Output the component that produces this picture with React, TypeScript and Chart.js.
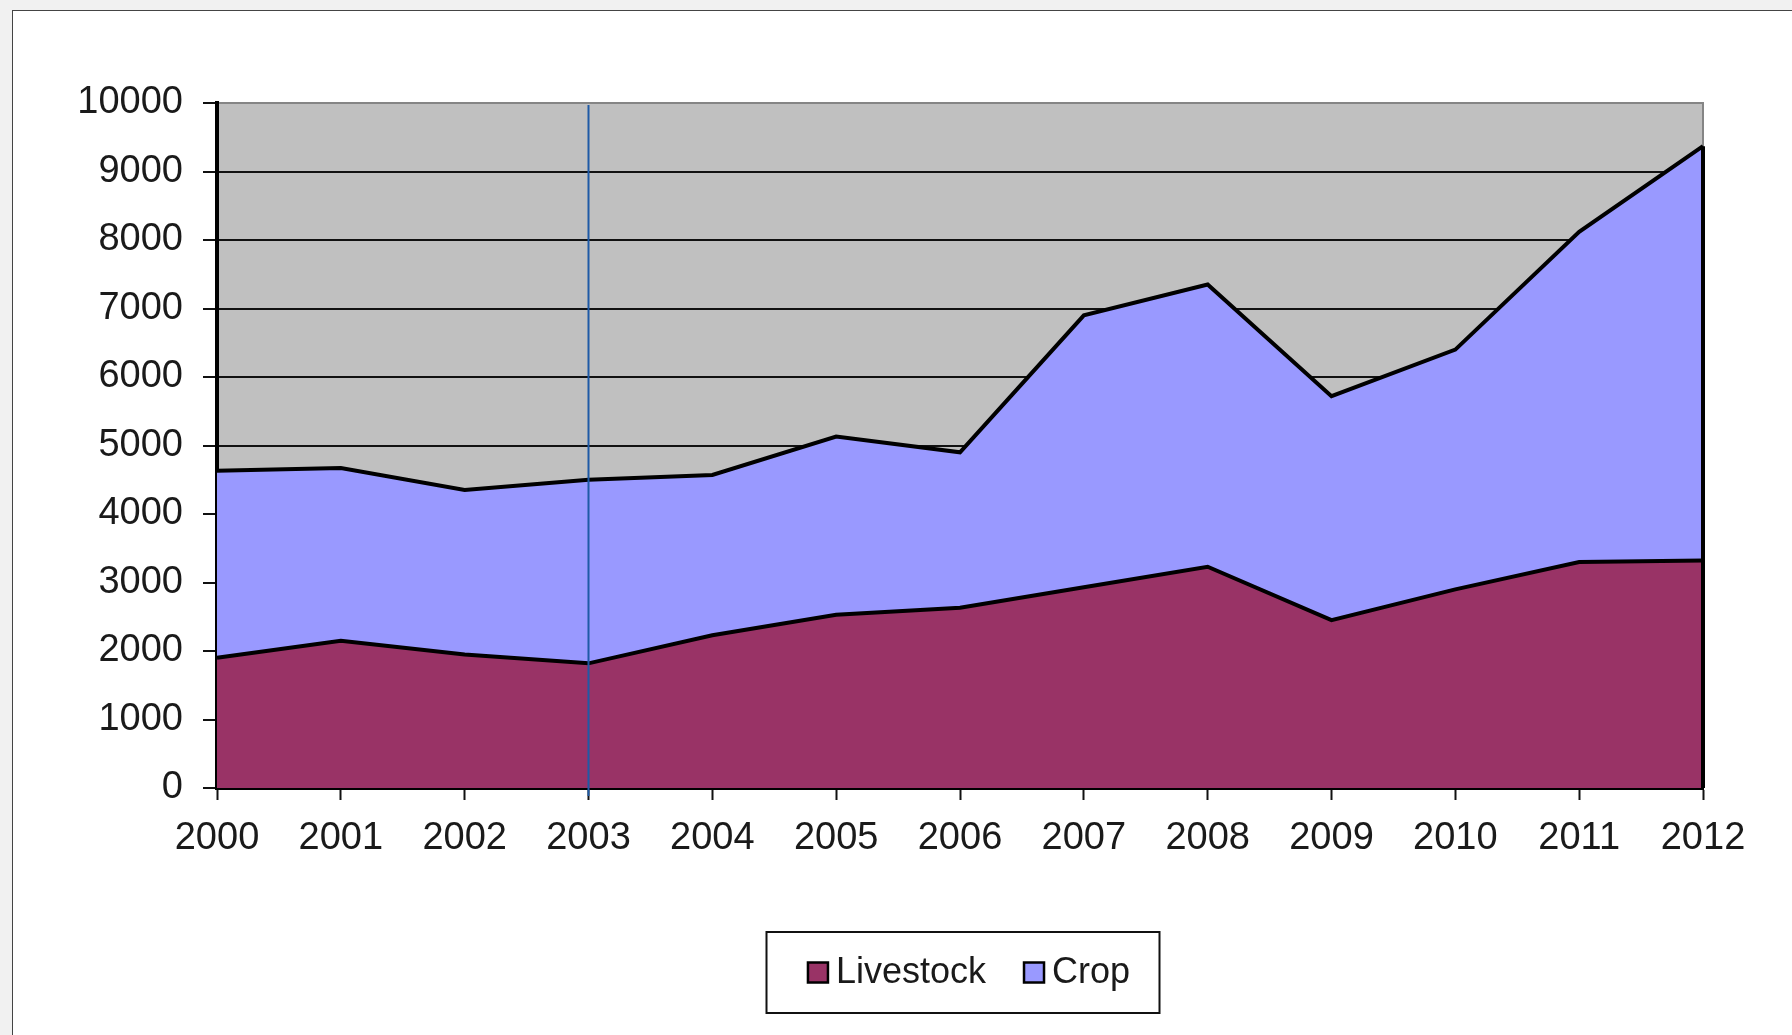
import React, { useEffect, useRef } from "react";
import { Chart, registerables } from "chart.js";

Chart.register(...registerables);

const years = ["2000", "2001", "2002", "2003", "2004", "2005", "2006", "2007", "2008", "2009", "2010", "2011", "2012"];
const livestock = [1900, 2150, 1950, 1820, 2230, 2530, 2630, 2930, 3230, 2450, 2900, 3300, 3320];
const crop = [2730, 2520, 2400, 2680, 2340, 2600, 2270, 3970, 4120, 3270, 3500, 4820, 6050];
const yMin = 0;
const yMax = 10000;
const yStep = 1000;
const markerYear = "2003";

const FONT = "'Liberation Sans', Arial, sans-serif";

const plotBg = {
  id: "plotBg",
  beforeDraw(chart: any) {
    const { ctx, chartArea: a } = chart;
    ctx.save();
    ctx.fillStyle = "#C0C0C0";
    ctx.fillRect(a.left, a.top, a.right - a.left, a.bottom - a.top);
    ctx.strokeStyle = "#858585";
    ctx.lineWidth = 2;
    ctx.beginPath();
    ctx.moveTo(a.left, a.top);
    ctx.lineTo(a.right, a.top);
    ctx.lineTo(a.right, a.bottom);
    ctx.stroke();
    ctx.restore();
  },
};

const edges = {
  id: "edges",
  afterDatasetsDraw(chart: any) {
    const { ctx, chartArea: a } = chart;
    const xs = chart.scales.x;
    const ys = chart.scales.y;
    const last = years.length - 1;
    const total = livestock[last] + crop[last];
    ctx.save();
    ctx.strokeStyle = "#000";
    ctx.lineWidth = 4;
    ctx.beginPath();
    const rx = xs.getPixelForValue(last);
    ctx.moveTo(rx, ys.getPixelForValue(0));
    ctx.lineTo(rx, ys.getPixelForValue(total));
    ctx.stroke();
    const mx = xs.getPixelForValue(years.indexOf(markerYear));
    ctx.strokeStyle = "#1F5AA6";
    ctx.lineWidth = 2;
    ctx.beginPath();
    ctx.moveTo(mx, a.top + 2);
    ctx.lineTo(mx, a.bottom + 8);
    ctx.stroke();
    ctx.restore();
  },
};

const boxLegend = {
  id: "boxLegend",
  afterDraw(chart: any) {
    const { ctx, chartArea: a } = chart;
    const cx = (a.left + a.right) / 2 + 3;
    const boxW = 393;
    const boxH = 81;
    const top = a.bottom + 144;
    const left = cx - boxW / 2;
    ctx.save();
    ctx.strokeStyle = "#111";
    ctx.lineWidth = 2;
    ctx.fillStyle = "#fff";
    ctx.fillRect(left, top, boxW, boxH);
    ctx.strokeRect(left, top, boxW, boxH);
    ctx.font = `36px ${FONT}`;
    ctx.textBaseline = "middle";
    const sw = 20;
    const gap = 8;
    const itemGap = 38;
    const items = chart.data.datasets.map((d: any) => ({ label: d.label, color: d.backgroundColor }));
    const widths = items.map((it: any) => sw + gap + ctx.measureText(it.label).width);
    const totalW = widths.reduce((s: number, w: number) => s + w, 0) + itemGap * (items.length - 1);
    let x = cx - totalW / 2 + 6;
    const cy = top + boxH / 2;
    items.forEach((it: any, i: number) => {
      ctx.fillStyle = it.color;
      ctx.fillRect(x, cy - sw / 2, sw, sw);
      ctx.strokeStyle = "#000";
      ctx.lineWidth = 2.5;
      ctx.strokeRect(x, cy - sw / 2, sw, sw);
      ctx.fillStyle = "#1a1a1a";
      ctx.fillText(it.label, x + sw + gap, cy + 1);
      x += widths[i] + itemGap;
    });
    ctx.restore();
  },
};

export default function App() {
  const ref = useRef<HTMLCanvasElement | null>(null);

  useEffect(() => {
    if (!ref.current) return;
    const chart = new Chart(ref.current, {
      type: "line",
      data: {
        labels: years,
        datasets: [
          {
            label: "Livestock",
            data: livestock,
            backgroundColor: "#993366",
            borderColor: "#000",
            borderWidth: 4,
            fill: "origin",
            pointRadius: 0,
            tension: 0,
          },
          {
            label: "Crop",
            data: crop,
            backgroundColor: "#9999FF",
            borderColor: "#000",
            borderWidth: 4,
            fill: "-1",
            pointRadius: 0,
            tension: 0,
          },
        ],
      },
      options: {
        responsive: false,
        maintainAspectRatio: false,
        animation: false,
        events: [],
        layout: { padding: { left: 0, top: 103, right: 89, bottom: 167 } },
        plugins: {
          legend: { display: false },
          tooltip: { enabled: false },
        },
        scales: {
          x: {
            offset: false,
            grid: {
              drawOnChartArea: false,
              drawTicks: true,
              tickLength: 12,
              tickColor: "#111",
              tickWidth: 2,
            },
            border: { display: true, color: "#000", width: 4 },
            ticks: {
              color: "#1a1a1a",
              font: { family: FONT, size: 38 },
              padding: 16,
              maxRotation: 0,
              autoSkip: false,
            },
            afterFit(s: any) {
              s.height = 80;
              s.paddingLeft = 0;
              s.paddingRight = 0;
            },
          },
          y: {
            stacked: true,
            min: yMin,
            max: yMax,
            grid: {
              color: (c: any) => (c.tick && c.tick.value === yMax ? "#858585" : "#111"),
              lineWidth: 2,
              tickLength: 14,
              tickColor: "#111",
              tickWidth: 2,
            },
            border: { display: true, color: "#000", width: 4 },
            ticks: {
              stepSize: yStep,
              color: "#1a1a1a",
              font: { family: FONT, size: 38 },
              padding: 20,
              callback: (v: any) => String(v),
            },
            afterFit(s: any) {
              s.width = 217;
              s.paddingTop = 0;
              s.paddingBottom = 0;
            },
          },
        },
      },
      plugins: [plotBg, edges, boxLegend],
    });
    return () => chart.destroy();
  }, []);

  return (
    <div
      style={{
        position: "absolute",
        left: 0,
        top: 0,
        width: 1792,
        height: 1035,
        overflow: "hidden",
        background: "#f1f1f1",
      }}
    >
      <div
        style={{
          position: "absolute",
          left: 12,
          top: 10,
          width: 1800,
          height: 1040,
          background: "#fff",
          border: "1.5px solid #444",
        }}
      />
      <canvas
        ref={ref}
        width={1792}
        height={1035}
        style={{ position: "absolute", left: 0, top: 0, width: 1792, height: 1035 }}
      />
    </div>
  );
}
